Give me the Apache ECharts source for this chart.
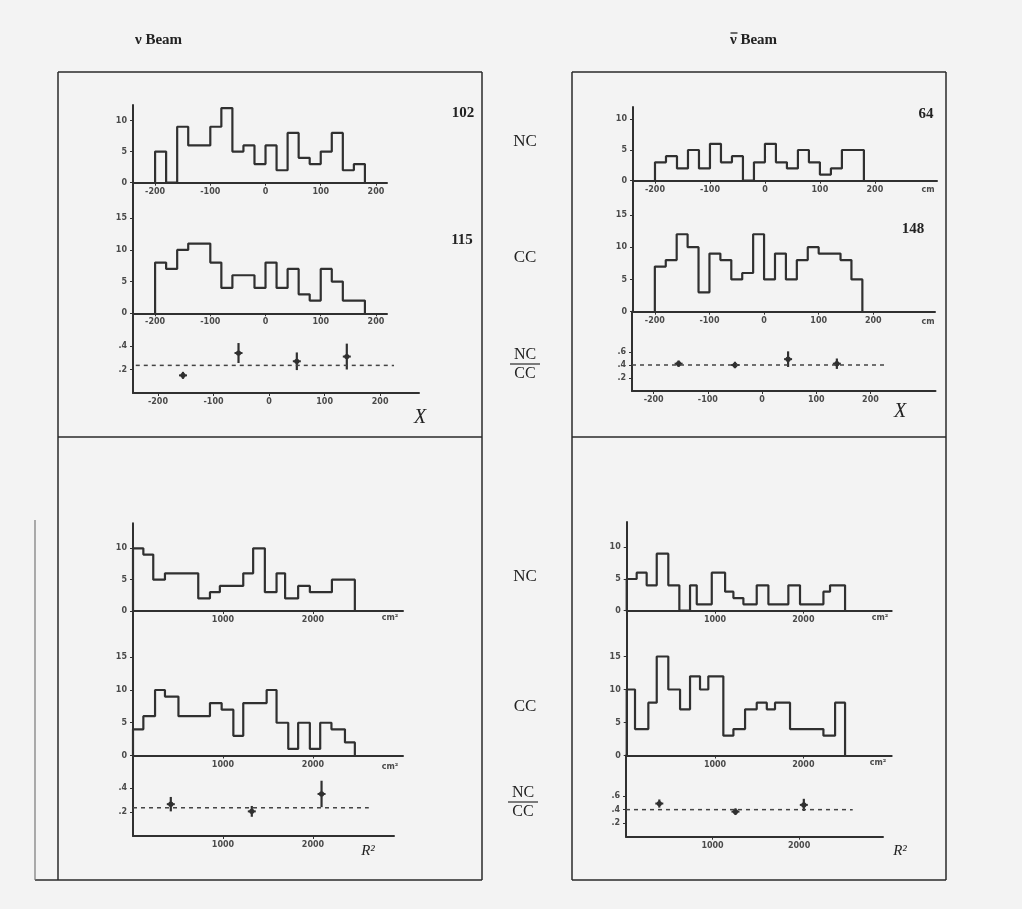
<!DOCTYPE html>
<html><head><meta charset="utf-8">
<script src="https://cdn.jsdelivr.net/npm/echarts@6/dist/echarts.min.js"></script>
<style>html,body{margin:0;padding:0;background:#f3f3f3}#c{width:1022px;height:909px}</style>
</head><body><div id="c"></div>
<script>
// ---------------- data ----------------
// X distributions: 20 cm bins from -200 to 180 cm
const xEdges = [-200,-180,-160,-140,-120,-100,-80,-60,-40,-20,0,20,40,60,80,100,120,140,160,180];
const nuNC_X  = [5,0,9,6,6,9,12,5,6,3,6,2,8,4,3,5,8,2,3];          // 102 events
const nuCC_X  = [8,7,10,11,11,8,4,6,6,4,8,4,7,3,2,7,5,2,2];        // 115 events
const nubNC_X = [3,4,2,5,2,6,3,4,0,3,6,3,2,5,3,1,2,5,5];           // 64 events
const nubCC_X = [7,8,12,10,3,9,8,5,6,12,5,9,5,8,10,9,9,8,5];       // 148 events
const totals  = {nuNC:'102', nuCC:'115', nubNC:'64', nubCC:'148'};
// NC/CC ratio points [x, ratio, error]
const nuRatio_X  = [[-155,0.15,0.03],[-55,0.34,0.085],[50,0.27,0.075],[140,0.31,0.11]];
const nubRatio_X = [[-154,0.42,0.05],[-50,0.40,0.05],[48,0.49,0.12],[138,0.42,0.08]];
const nuLevel = 0.235, nubLevel = 0.40;
const xLevelRange = [-240, 225];

// R^2 distributions (cm^2), bin edges
const nuNC_Redges  = [0,115,225,355,725,855,965,1225,1335,1465,1595,1690,1835,1965,2210,2465];
const nuNC_R       = [10,9,5,6,2,3,4,6,10,3,6,2,4,3,5];
const nuCC_Redges  = [0,115,245,355,505,855,985,1115,1225,1485,1595,1725,1835,1965,2080,2205,2355,2465];
const nuCC_R       = [4,6,10,9,6,8,7,3,8,10,5,1,5,1,5,4,2];
const nubNC_Redges = [0,113,226,340,471,596,717,793,963,1114,1208,1321,1472,1604,1830,1962,2227,2302,2472];
const nubNC_R      = [5,6,4,9,4,0,4,1,6,3,2,1,4,1,4,1,3,4];
const nubCC_Redges = [0,94,245,340,471,604,717,830,924,1094,1208,1340,1472,1586,1679,1849,2227,2359,2472];
const nubCC_R      = [10,4,8,15,10,7,12,10,12,3,4,7,8,7,8,4,3,8];
const nuRatio_R  = [[420,0.265,0.06],[1320,0.205,0.045],[2095,0.35,0.11]];
const nubRatio_R = [[385,0.49,0.06],[1265,0.37,0.05],[2055,0.47,0.09]];
const rLevelRange = [0, 2620];

// tick labels
const xTicks = [-200,-100,0,100,200];
const rTicks = [1000,2000];
const histTicksNC = [0,5,10];
const histTicksCC = [0,5,10,15];
const ratioTicksNu = [0.2,0.4];
const ratioTicksNub = [0.2,0.4,0.6];

// ---------------- chart ----------------
const INK = '#303030';
const LBL = '#4a4a4a';
function histPoints(edges, counts){
  const pts = [[edges[0],0]];
  counts.forEach((c,i)=>{ pts.push([edges[i],c]); pts.push([edges[i+1],c]); });
  pts.push([edges[edges.length-1],0]);
  return pts;
}
const ratioFmt = v => String(+(+v).toFixed(2)).replace(/^0\./,'.');
const plainFmt = v => String(v);

// panel layout
const panels = [
 // top-left (nu, X)
 {g:{left:133,top:105,width:254,height:77.7}, x:[-240,220], y:[0,12.5], xt:xTicks, yt:histTicksNC, kind:'hist', edges:xEdges, counts:nuNC_X},
 {g:{left:133,top:182.7,width:254,height:130.6}, x:[-240,220], y:[0,20.6], xt:xTicks, yt:histTicksCC, kind:'hist', edges:xEdges, counts:nuCC_X},
 {g:{left:133,top:313.3,width:286,height:79.7}, x:[-245,270], y:[0,0.678], xt:xTicks, yt:ratioTicksNu, kind:'ratio', pts:nuRatio_X, level:nuLevel, lr:xLevelRange},
 // top-right (nubar, X)
 {g:{left:633,top:107,width:304,height:73.7}, x:[-240,313], y:[0,12], xt:xTicks, yt:histTicksNC, kind:'hist', edges:xEdges, counts:nubNC_X},
 {g:{left:633,top:180.7,width:302,height:131}, x:[-240,313], y:[0,20.3], xt:xTicks, yt:histTicksCC, kind:'hist', edges:xEdges, counts:nubCC_X},
 {g:{left:632,top:311.7,width:303.5,height:79.3}, x:[-240,320], y:[0,1.22], xt:xTicks, yt:ratioTicksNub, kind:'ratio', pts:nubRatio_X, level:nubLevel, lr:xLevelRange},
 // bottom-left (nu, R^2)
 {g:{left:133,top:523.2,width:270,height:87.8}, x:[0,3000], y:[0,14], xt:rTicks, yt:histTicksNC, kind:'hist', edges:nuNC_Redges, counts:nuNC_R},
 {g:{left:133,top:611,width:270,height:144.5}, x:[0,3000], y:[0,22.06], xt:rTicks, yt:histTicksCC, kind:'hist', edges:nuCC_Redges, counts:nuCC_R},
 {g:{left:133,top:755.5,width:261,height:80.5}, x:[0,2900], y:[0,0.67], xt:rTicks, yt:ratioTicksNu, kind:'ratio', pts:nuRatio_R, level:nuLevel, lr:rLevelRange},
 // bottom-right (nubar, R^2)
 {g:{left:626.7,top:522,width:265,height:88.7}, x:[0,3000], y:[0,14], xt:rTicks, yt:histTicksNC, kind:'hist', edges:nubNC_Redges, counts:nubNC_R},
 {g:{left:626.7,top:610.7,width:265,height:144.8}, x:[0,3000], y:[0,21.94], xt:rTicks, yt:histTicksCC, kind:'hist', edges:nubCC_Redges, counts:nubCC_R},
 {g:{left:626,top:755.5,width:257,height:81.2}, x:[0,2970], y:[0,1.2], xt:rTicks, yt:ratioTicksNub, kind:'ratio', pts:nubRatio_R, level:nubLevel, lr:rLevelRange}
];

const grid=[], xAxis=[], yAxis=[], series=[];
panels.forEach((p,i)=>{
  grid.push(Object.assign({containLabel:false}, p.g));
  xAxis.push({gridIndex:i, type:'value', min:p.x[0], max:p.x[1],
    axisLine:{show:true, onZero:false, lineStyle:{color:INK, width:2}},
    axisTick:{show:true, length:3, customValues:p.xt, lineStyle:{color:INK, width:1}},
    axisLabel:{show:true, customValues:p.xt, fontSize:8, fontWeight:'bold', color:LBL, margin:5, fontFamily:'DejaVu Sans', formatter:plainFmt},
    splitLine:{show:false}});
  yAxis.push({gridIndex:i, type:'value', min:p.y[0], max:p.y[1],
    axisLine:{show:true, onZero:false, lineStyle:{color:INK, width:2}},
    axisTick:{show:true, length:3, customValues:p.yt, lineStyle:{color:INK, width:1}},
    axisLabel:{show:true, customValues:p.yt, fontSize:8, fontWeight:'bold', color:LBL, margin:6, fontFamily:'DejaVu Sans',
      formatter: p.kind==='ratio' ? ratioFmt : plainFmt},
    splitLine:{show:false}});
  if(p.kind==='hist'){
    series.push({type:'line', xAxisIndex:i, yAxisIndex:i, data:histPoints(p.edges,p.counts),
      showSymbol:false, symbol:'none', lineStyle:{color:INK, width:2.2}, silent:true, z:3});
  } else {
    series.push({type:'line', xAxisIndex:i, yAxisIndex:i, data:[[p.lr[0],p.level],[p.lr[1],p.level]],
      showSymbol:false, symbol:'none', lineStyle:{color:'#444', width:1.5, type:[4,4]}, silent:true});
    series.push({type:'custom', xAxisIndex:i, yAxisIndex:i, data:p.pts, silent:true,
      renderItem:(params, api)=>{
        const x=api.value(0), y=api.value(1), e=api.value(2);
        const t=api.coord([x,y+e]), b=api.coord([x,y-e]), c=api.coord([x,y]);
        return {type:'group', children:[
          {type:'line', shape:{x1:t[0],y1:t[1],x2:b[0],y2:b[1]}, style:{stroke:INK, lineWidth:2.2}},
          {type:'line', shape:{x1:c[0]-4,y1:c[1],x2:c[0]+4,y2:c[1]}, style:{stroke:INK, lineWidth:2}},
          {type:'circle', shape:{cx:c[0],cy:c[1],r:2.6}, style:{fill:INK}}
        ]};
      }});
  }
});

const serif = '"Liberation Serif","DejaVu Serif",serif';
function txt(x,y,s,opts){ return {type:'text', x:x, y:y, style:Object.assign({text:s, fill:'#222', font:'bold 15px '+serif, textAlign:'center', textVerticalAlign:'middle'}, opts||{})}; }
function ln(x1,y1,x2,y2,w,c){ return {type:'line', shape:{x1,y1,x2,y2}, style:{stroke:c||'#2a2a2a', lineWidth:w||1.5}}; }
const unitFont = 'bold 8px "DejaVu Sans"';

const graphic = [
  // panel frames
  ln(58,72,482,72,1.5), ln(58,72,58,880,1.5), ln(482,72,482,880,1.5), ln(58,437,482,437,1.5), ln(35,880,482,880,1.5),
  ln(35,520,35,880,1.2,'#777'),
  ln(572,72,946,72,1.5), ln(572,72,572,880,1.5), ln(946,72,946,880,1.5), ln(572,437,946,437,1.5), ln(572,880,946,880,1.5),
  // headers
  txt(135,40,'\u03BD Beam', {font:'bold 15px '+serif, textAlign:'left'}),
  txt(730,40,'\u03BD Beam', {font:'bold 15px '+serif, textAlign:'left'}),
  ln(730.5,33,737.5,33,1.3,'#222'),
  // totals
  txt(463,113,totals.nuNC), txt(462,240,totals.nuCC), txt(926,114,totals.nubNC), txt(913,229,totals.nubCC),
  // row labels
  txt(525,142,'NC',{font:'17px '+serif}), txt(525,258,'CC',{font:'17px '+serif}),
  txt(525,355,'NC',{font:'16px '+serif}), ln(510,364,540,364,1.2), txt(525,374,'CC',{font:'16px '+serif}),
  txt(525,577,'NC',{font:'17px '+serif}), txt(525,707,'CC',{font:'17px '+serif}),
  txt(523,793,'NC',{font:'16px '+serif}), ln(508,802,538,802,1.2), txt(523,812,'CC',{font:'16px '+serif}),
  // variable names
  txt(420,418,'X',{font:'italic 20px '+serif}), txt(900,412,'X',{font:'italic 20px '+serif}),
  txt(368,851,'R\u00B2',{font:'italic 15px '+serif}), txt(900,851,'R\u00B2',{font:'italic 15px '+serif}),
  // units
  txt(928,190,'cm',{font:unitFont, fill:LBL}), txt(928,322,'cm',{font:unitFont, fill:LBL}),
  txt(390,618,'cm\u00B2',{font:unitFont, fill:LBL}), txt(390,767,'cm\u00B2',{font:unitFont, fill:LBL}),
  txt(880,618,'cm\u00B2',{font:unitFont, fill:LBL}), txt(878,763,'cm\u00B2',{font:unitFont, fill:LBL})
];

const chart = echarts.init(document.getElementById('c'));
chart.setOption({backgroundColor:'#f3f3f3', animation:false, grid, xAxis, yAxis, series, graphic});
</script></body></html>
